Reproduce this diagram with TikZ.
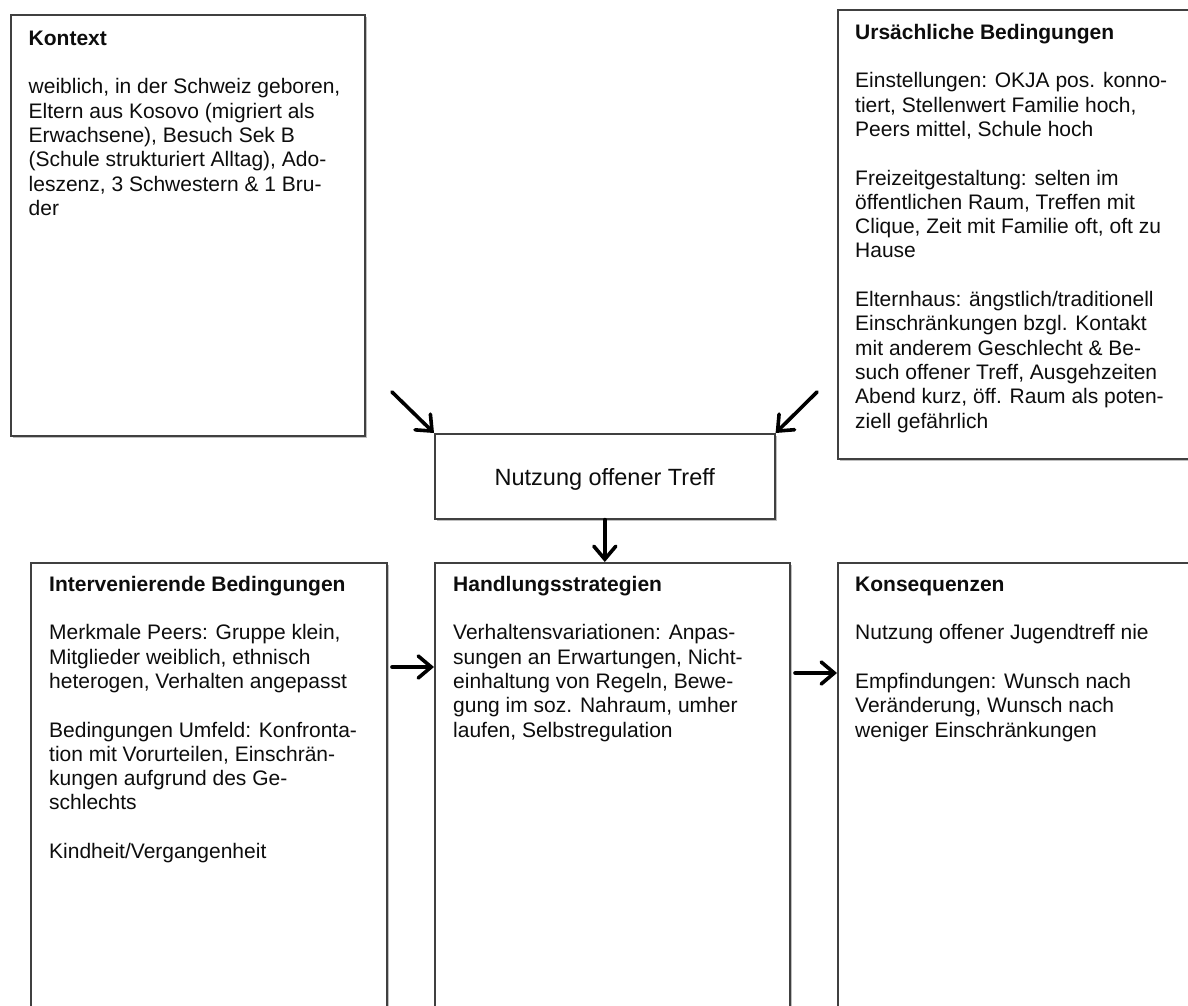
\documentclass[tikz,border=0pt]{standalone}
\usepackage{fontspec}
\setmainfont{Liberation Sans}
\usetikzlibrary{arrows.meta,shadows}
\tikzset{
  box/.style={draw=black!75, line width=1.6pt, fill=white, inner sep=0pt, anchor=north west,
    drop shadow={shadow xshift=1.8pt, shadow yshift=-1.8pt, opacity=0.45, fill=black!55}},
  txt/.style={anchor=north west, inner sep=0pt, align=left, text=black!95,
    font=\fontsize{21}{24.3}\selectfont},
  arr/.style={line width=3.6pt, line cap=round, -{Straight Barb[length=13pt,width=22pt,line cap=round]}},
}
\begin{document}
\begin{tikzpicture}[x=1pt,y=-1pt]
\clip (0,0) rectangle (1188,1006);
\fill[white] (0,0) rectangle (1188,1006);

% boxes
\node[box, minimum width=354pt, minimum height=421pt] (kontext) at (10,14) {};
\node[box, minimum width=370pt, minimum height=449pt] (ursache) at (837,9) {};
\node[box, minimum width=340pt, minimum height=85pt, anchor=north west,
      font=\fontsize{23.5}{28}\selectfont, text height=22pt, text depth=3pt, text=black!95] (nutzung) at (434,433) {Nutzung offener Treff};
\node[box, minimum width=356pt, minimum height=470pt] (interv) at (30,562) {};
\node[box, minimum width=355pt, minimum height=470pt] (handlung) at (434,562) {};
\node[box, minimum width=370pt, minimum height=470pt] (konseq) at (837,562) {};

% texts
\node[txt] (tkontext) at (28.5,27) {\rule{0pt}{18pt}\textbf{Kontext}\\[24.3pt]
weiblich, in der Schweiz geboren,\\
Eltern aus Kosovo (migriert als\\
Erwachsene), Besuch Sek B\\
(Schule strukturiert Alltag), Ado-\\
leszenz, 3 Schwestern \& 1 Bru-\\
der};

\node[txt] (tursache) at (855,21) {\rule{0pt}{18pt}\textbf{Ursächliche Bedingungen}\\[24.3pt]
Einstellungen: OKJA pos. konno-\\
tiert, Stellenwert Familie hoch,\\
Peers mittel, Schule hoch\\[24.3pt]
Freizeitgestaltung: selten im\\
öffentlichen Raum, Treffen mit\\
Clique, Zeit mit Familie oft, oft zu\\
Hause\\[24.3pt]
Elternhaus: ängstlich/traditionell\\
Einschränkungen bzgl. Kontakt\\
mit anderem Geschlecht \& Be-\\
such offener Treff, Ausgehzeiten\\
Abend kurz, öff. Raum als poten-\\
ziell gefährlich};

\node[txt] (tinterv) at (49,573) {\rule{0pt}{18pt}\textbf{Intervenierende Bedingungen}\\[24.3pt]
Merkmale Peers: Gruppe klein,\\
Mitglieder weiblich, ethnisch\\
heterogen, Verhalten angepasst\\[24.3pt]
Bedingungen Umfeld: Konfronta-\\
tion mit Vorurteilen, Einschrän-\\
kungen aufgrund des Ge-\\
schlechts\\[24.3pt]
Kindheit/Vergangenheit};

\node[txt] (thandlung) at (453,573) {\rule{0pt}{18pt}\textbf{Handlungsstrategien}\\[24.3pt]
Verhaltensvariationen: Anpas-\\
sungen an Erwartungen, Nicht-\\
einhaltung von Regeln, Bewe-\\
gung im soz. Nahraum, umher\\
laufen, Selbstregulation};

\node[txt] (tkonseq) at (855,573) {\rule{0pt}{18pt}\textbf{Konsequenzen}\\[24.3pt]
Nutzung offener Jugendtreff nie\\[24.3pt]
Empfindungen: Wunsch nach\\
Veränderung, Wunsch nach\\
weniger Einschränkungen};

% connectors
\coordinate (a1) at (392,392);
\coordinate (a2) at (817,392);
\coordinate (h1) at (392,667);
\coordinate (h2) at (795,673);
\draw[arr] (a1) -- (nutzung.north west);
\draw[arr] (a2) -- (nutzung.north east);
\draw[arr] (nutzung.south) -- (nutzung.south |- handlung.north);
\draw[arr] (h1) -- (h1 -| handlung.west);
\draw[arr] (h2) -- (h2 -| konseq.west);
\end{tikzpicture}
\end{document}
